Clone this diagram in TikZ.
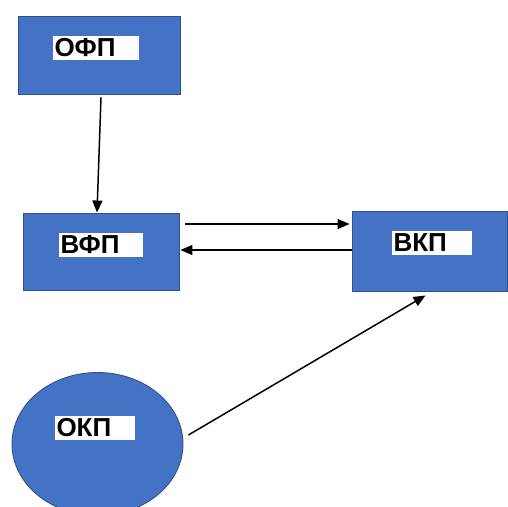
\documentclass[tikz,border=0pt]{standalone}
\usepackage{fontspec}
\setmainfont{Liberation Sans}
\usetikzlibrary{arrows.meta,shapes.geometric}
\definecolor{BoxFill}{HTML}{4472C4}
\definecolor{BoxEdge}{HTML}{2F528F}
\definecolor{Ink}{HTML}{000000}
\tikzset{
  stage box/.style={draw=BoxEdge, fill=BoxFill, line width=0.9pt},
  stage oval/.style={ellipse, draw=BoxEdge, fill=BoxFill, line width=0.9pt, inner sep=0pt},
  stage tag/.style={fill=white, text=Ink, inner sep=1.5pt, align=left,
    font=\bfseries\fontsize{26}{28}\selectfont, minimum height=24pt, anchor=center},
  flow/.style={-{Triangle[length=12pt,width=10pt]}, draw=Ink, line width=1.5pt},
}

\begin{document}
\begin{tikzpicture}[x=1pt, y=-1pt]
  \useasboundingbox (0,0) rectangle (508,506);

  % boxes
  \node[stage box, minimum width=162pt, minimum height=78pt] (ofp) at (99,55) {};
  \node[stage box, minimum width=156pt, minimum height=77pt] (vfp) at (101,251.5) {};
  \node[stage box, minimum width=155pt, minimum height=80pt] (vkp) at (429.5,251) {};
  \node[stage oval, minimum width=171pt, minimum height=143pt] (okp) at (97.5,444) {};

  % labels
  \node[stage tag, text width=83pt] (ofpTag) at (96,48) {ОФП};
  \node[stage tag, text width=81pt] (vfpTag) at (101,244.5) {ВФП};
  \node[stage tag, text width=77pt] (vkpTag) at (432,243) {ВКП};
  \node[stage tag, text width=77pt] (okpTag) at (95,427.5) {ОКП};

  % connectors
  \draw[flow] ([xshift=2pt,yshift=-3pt]ofp.south) -- ([xshift=-4pt]vfp.north);
  \draw[flow] ([xshift=6pt,yshift=27.5pt]vfp.east) -- ([xshift=-2pt,yshift=27pt]vkp.west);
  \draw[flow] ([yshift=1pt]vkp.west) -- ([xshift=1pt,yshift=1.5pt]vfp.east);
  \draw[flow] ([xshift=5pt,yshift=9pt]okp.east) -- ([xshift=-4pt,yshift=-4pt]vkp.south);
\end{tikzpicture}
\end{document}
